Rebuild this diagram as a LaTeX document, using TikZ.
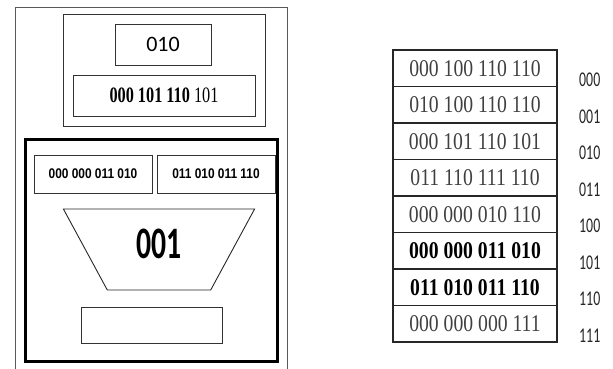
\documentclass[tikz,border=0pt]{standalone}
\usepackage{fontspec}
\newfontfamily\tablefont[FakeStretch=0.82]{Liberation Serif}
\newfontfamily\entryfont[FakeStretch=0.74]{Liberation Serif}
\newfontfamily\boxfont[FakeStretch=0.85]{Liberation Sans}
\newfontfamily\keyfont[FakeStretch=0.66]{Carlito}
\newfontfamily\sansdigits{Carlito}
\usetikzlibrary{shapes.geometric, positioning, fit}

\begin{document}
\begin{tikzpicture}[
    x=1pt, y=-1pt,
    box/.style={
        rectangle,
        draw=black!80,
        line width=0.9pt,
        inner sep=0pt,
        align=center
    },
    thickbox/.style={
        rectangle,
        draw=black,
        line width=3pt,
        inner sep=0pt
    },
    row/.style={
        rectangle,
        draw=black!85,
        line width=1.1pt,
        minimum width=164pt,
        minimum height=36.5pt,
        inner sep=0pt,
        outer sep=0pt,
        text=black!75,
        font=\tablefont\fontsize{24}{24}\selectfont
    },
    boldrow/.style={
        row,
        text=black,
        font=\tablefont\bfseries\fontsize{24}{24}\selectfont
    },
    code/.style={
        inner sep=0pt,
        text=black!85,
        font=\keyfont\fontsize{21}{21}\selectfont
    }
]
\useasboundingbox (0,0) rectangle (613,369);

% Outer frame (open at the bottom)
\draw[black!65, line width=1pt] (15,369) -- (15,8) -- (287,8) -- (287,369);

% Upper block
\node[box, minimum width=96pt, minimum height=41pt, font=\sansdigits\fontsize{22}{22}\selectfont] (index) at (163,44.5) {010};
\node[box, minimum width=182pt, minimum height=41pt, font=\entryfont\fontsize{22}{22}\selectfont] (entry) at (164,95.5) {\textbf{000 101 110} 101};
\node[box, fit=(index)(entry), inner sep=9.5pt] (upper) {};

% Lower block
\node[thickbox, minimum width=252pt, minimum height=222pt] (lower) at (151,250) {};
\node[box, minimum width=118pt, minimum height=38pt, font=\boxfont\bfseries\fontsize{14}{14}\selectfont] (left) at (93,174) {000 000 011 010};
\node[box, minimum width=118pt, minimum height=38pt, font=\boxfont\bfseries\fontsize{14}{14}\selectfont] (right) at (216,174) {011 010 011 110};
\node[trapezium, draw=black!85, line width=0.9pt, shape border rotate=180, trapezium angle=65, trapezium stretches=true,
      minimum width=192pt, minimum height=81pt, text depth=11pt, font=\keyfont\bfseries\fontsize{45}{45}\selectfont] (key) at (159,249.5) {001};
\node[box, minimum width=141pt, minimum height=36pt] (result) at (151.5,325) {};

% Table
\node[row] (r0) at (475,68.25) {000 100 110 110};
\node[row, below=0pt of r0] (r1) {010 100 110 110};
\node[row, below=0pt of r1] (r2) {000 101 110 101};
\node[row, below=0pt of r2] (r3) {011 110 111 110};
\node[row, below=0pt of r3] (r4) {000 000 010 110};
\node[boldrow, below=0pt of r4] (r5) {000 000 011 010};
\node[boldrow, below=0pt of r5] (r6) {011 010 011 110};
\node[row, below=0pt of r6] (r7) {000 000 000 111};

% Row indices
\node[code, right=22pt of r0, yshift=-12pt] (c0) {000};
\node[code, right=22pt of r1, yshift=-12pt] (c1) {001};
\node[code, right=22pt of r2, yshift=-12pt] (c2) {010};
\node[code, right=22pt of r3, yshift=-12pt] (c3) {011};
\node[code, right=22pt of r4, yshift=-12pt] (c4) {100};
\node[code, right=22pt of r5, yshift=-12pt] (c5) {101};
\node[code, right=22pt of r6, yshift=-12pt] (c6) {110};
\node[code, right=22pt of r7, yshift=-12pt] (c7) {111};

\end{tikzpicture}
\end{document}
